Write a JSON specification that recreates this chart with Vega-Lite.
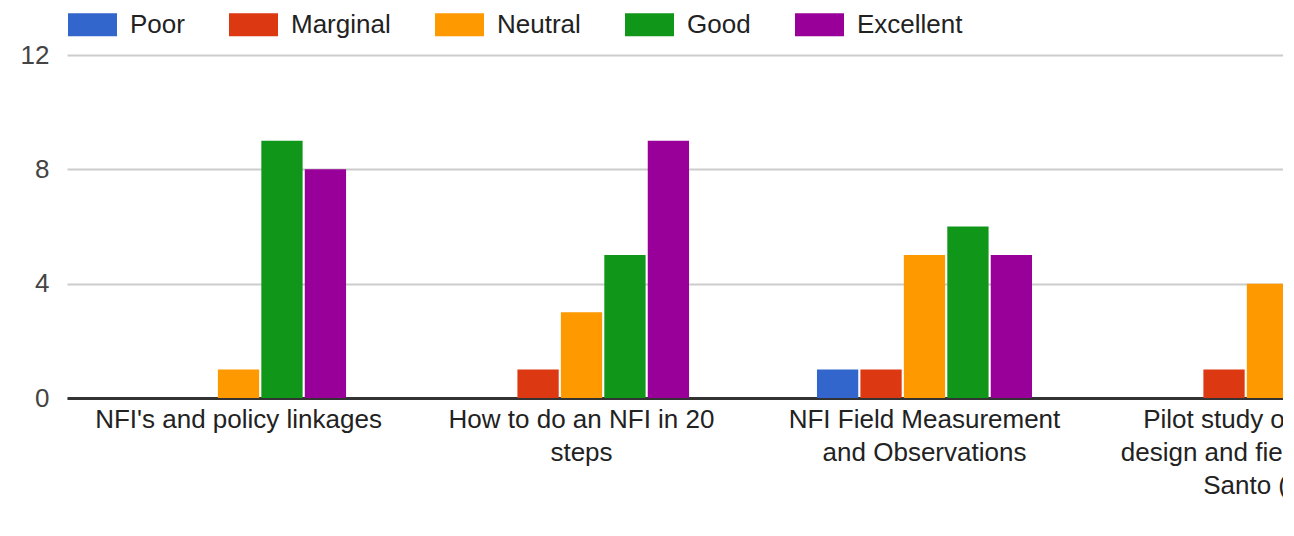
{
  "$schema": "https://vega.github.io/schema/vega-lite/v6.json",
  "width": 1216,
  "height": 343,
  "autosize": {"type": "none"},
  "padding": {"left": 67, "top": 55, "right": 0, "bottom": 138},
  "background": "white",
  "config": {"font": "Liberation Sans", "view": {"stroke": null}},
  "data": {
    "values": [
      {"session": "NFI's and policy linkages", "rating": "Poor", "count": 0},
      {"session": "NFI's and policy linkages", "rating": "Marginal", "count": 0},
      {"session": "NFI's and policy linkages", "rating": "Neutral", "count": 1},
      {"session": "NFI's and policy linkages", "rating": "Good", "count": 9},
      {"session": "NFI's and policy linkages", "rating": "Excellent", "count": 8},
      {"session": "How to do an NFI in 20|steps", "rating": "Poor", "count": 0},
      {"session": "How to do an NFI in 20|steps", "rating": "Marginal", "count": 1},
      {"session": "How to do an NFI in 20|steps", "rating": "Neutral", "count": 3},
      {"session": "How to do an NFI in 20|steps", "rating": "Good", "count": 5},
      {"session": "How to do an NFI in 20|steps", "rating": "Excellent", "count": 9},
      {"session": "NFI Field Measurement|and Observations", "rating": "Poor", "count": 1},
      {"session": "NFI Field Measurement|and Observations", "rating": "Marginal", "count": 1},
      {"session": "NFI Field Measurement|and Observations", "rating": "Neutral", "count": 5},
      {"session": "NFI Field Measurement|and Observations", "rating": "Good", "count": 6},
      {"session": "NFI Field Measurement|and Observations", "rating": "Excellent", "count": 5},
      {"session": "Pilot study on the NFI|design and field testing in|Santo (VU)", "rating": "Poor", "count": 0},
      {"session": "Pilot study on the NFI|design and field testing in|Santo (VU)", "rating": "Marginal", "count": 1},
      {"session": "Pilot study on the NFI|design and field testing in|Santo (VU)", "rating": "Neutral", "count": 4},
      {"session": "Pilot study on the NFI|design and field testing in|Santo (VU)", "rating": "Good", "count": 7},
      {"session": "Pilot study on the NFI|design and field testing in|Santo (VU)", "rating": "Excellent", "count": 6}
    ]
  },
  "mark": {"type": "bar", "clip": true},
  "encoding": {
    "x": {
      "field": "session",
      "type": "nominal",
      "sort": null,
      "scale": {"range": [0, 1372], "paddingInner": 0.373, "paddingOuter": 0.1866},
      "axis": {
        "title": null,
        "ticks": false,
        "grid": false,
        "domainColor": "#333333",
        "domainWidth": 3,
        "labelFontSize": 26,
        "labelColor": "#222222",
        "labelPadding": 8,
        "labelAngle": 0,
        "labelLimit": 0,
        "labelLineHeight": 33,
        "labelExpr": "split(datum.label, '|')"
      }
    },
    "xOffset": {
      "field": "rating",
      "type": "nominal",
      "sort": ["Poor", "Marginal", "Neutral", "Good", "Excellent"],
      "scale": {"paddingInner": 0.05}
    },
    "y": {
      "field": "count",
      "type": "quantitative",
      "scale": {"domain": [0, 12], "nice": false},
      "axis": {
        "title": null,
        "values": [0, 4, 8, 12],
        "domain": false,
        "ticks": false,
        "gridColor": "#cccccc",
        "gridWidth": 2,
        "labelFontSize": 26,
        "labelColor": "#444444",
        "labelPadding": 18
      }
    },
    "color": {
      "field": "rating",
      "type": "nominal",
      "scale": {
        "domain": ["Poor", "Marginal", "Neutral", "Good", "Excellent"],
        "range": ["#3366cc", "#dc3912", "#ff9900", "#109618", "#990099"]
      },
      "legend": {
        "title": null,
        "orient": "none",
        "legendX": 1,
        "legendY": -55,
        "direction": "horizontal",
        "symbolType": "M-1,-0.47H1V0.47H-1Z",
        "symbolSize": 2401,
        "symbolStrokeWidth": 0,
        "symbolOpacity": 1,
        "labelFontSize": 26,
        "labelColor": "#222222",
        "labelOffset": 13,
        "labelLimit": 0,
        "columnPadding": 44,
        "padding": 0
      }
    }
  }
}
